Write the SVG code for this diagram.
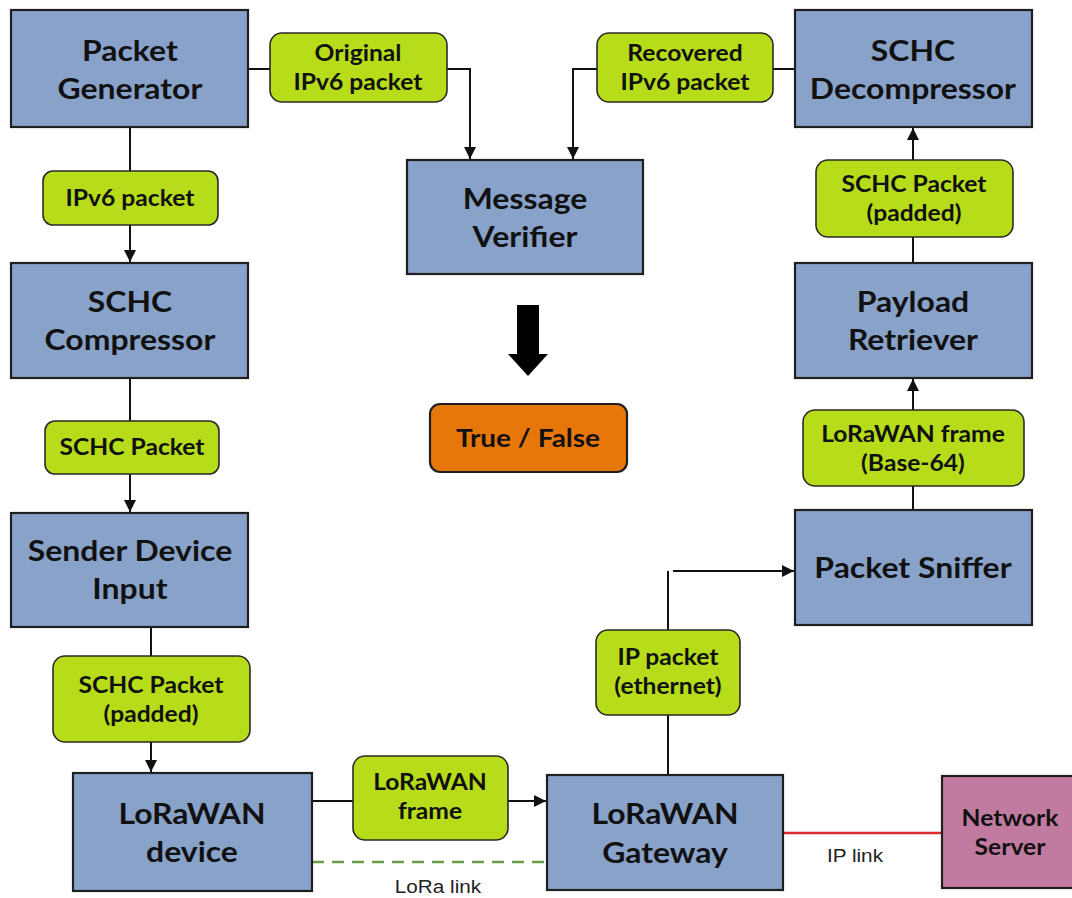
<svg xmlns="http://www.w3.org/2000/svg" width="1072" height="898" viewBox="0 0 1072 898">
  <style>
    .node { fill: #88A2C9; stroke: #1f1f1f; stroke-width: 2.2; }
    .lbl { fill: #B7DC19; stroke: #2a2a2a; stroke-width: 1.6; }
    .res { fill: #E8770B; stroke: #1f1f1f; stroke-width: 2.2; }
    .srv { fill: #C27BA0; stroke: #1f1f1f; stroke-width: 2.2; }
    text { transform-box: fill-box; transform-origin: center; transform: scaleX(1.12); }
    .nt { font-family: Lato, "Liberation Sans", sans-serif; font-weight: 700; font-size: 28.5px; fill: #111; text-anchor: middle; }
    .lt { font-family: Lato, "Liberation Sans", sans-serif; font-weight: 700; font-size: 22px; fill: #111; text-anchor: middle; }
    .st { font-family: "Liberation Sans", Arial, sans-serif; font-size: 18.5px; fill: #222; text-anchor: middle; }
    .wire { fill: none; stroke: #111; stroke-width: 2; }
  </style>
  <defs>
    <marker id="arr" viewBox="0 0 10 10" refX="10" refY="5" markerWidth="6" markerHeight="6" markerUnits="strokeWidth" orient="auto">
      <path d="M0,0 L10,5 L0,10 Z" fill="#111"/>
    </marker>
  </defs>

  <!-- connectors -->
  <g id="connectors">
    <path class="wire" d="M248,69 H270"/>
    <path class="wire" d="M447,69 H470 V159" marker-end="url(#arr)"/>
    <path class="wire" d="M795,69 H773"/>
    <path class="wire" d="M597,69 H573 V159" marker-end="url(#arr)"/>
    <path class="wire" d="M130,127 V171"/>
    <path class="wire" d="M130,225 V262" marker-end="url(#arr)"/>
    <path class="wire" d="M130,378 V421"/>
    <path class="wire" d="M130,474 V512" marker-end="url(#arr)"/>
    <path class="wire" d="M151,627 V656"/>
    <path class="wire" d="M151,742 V772" marker-end="url(#arr)"/>
    <path class="wire" d="M312,801 H353"/>
    <path class="wire" d="M508,801 H546" marker-end="url(#arr)"/>
    <path class="wire" d="M668,775 V715"/>
    <path class="wire" d="M668,630 V571"/>
    <path class="wire" d="M673,571 H794" marker-end="url(#arr)"/>
    <path class="wire" d="M913,510 V486"/>
    <path class="wire" d="M913,410 V379" marker-end="url(#arr)"/>
    <path class="wire" d="M913,263 V237"/>
    <path class="wire" d="M913,160 V128" marker-end="url(#arr)"/>
    <path d="M312,862 H547" fill="none" stroke="#6A9A45" stroke-width="2.5" stroke-dasharray="12,8"/>
    <path d="M783,833 H942" fill="none" stroke="#D92B2B" stroke-width="2.5"/>
    <!-- verdict arrow -->
    <path d="M517,305 H539 V354 H548 L528,376 L508,354 H517 Z" fill="#000"/>
    <text class="st" x="438" y="893">LoRa link</text>
    <text class="st" x="855" y="862">IP link</text>
  </g>

  <!-- left column -->
  <g id="packet-generator">
    <rect class="node" x="11" y="10" width="237" height="117"/>
    <text class="nt" x="130" y="61">Packet</text>
    <text class="nt" x="130" y="99">Generator</text>
  </g>
  <g id="lbl-ipv6">
    <rect class="lbl" x="43" y="171" width="175" height="54" rx="10"/>
    <text class="lt" x="130" y="206">IPv6 packet</text>
  </g>
  <g id="schc-compressor">
    <rect class="node" x="11" y="263" width="237" height="115"/>
    <text class="nt" x="130" y="312">SCHC</text>
    <text class="nt" x="130" y="350">Compressor</text>
  </g>
  <g id="lbl-schc">
    <rect class="lbl" x="45" y="421" width="174" height="53" rx="10"/>
    <text class="lt" x="132" y="455">SCHC Packet</text>
  </g>
  <g id="sender-device-input">
    <rect class="node" x="11" y="513" width="237" height="114"/>
    <text class="nt" x="130" y="561">Sender Device</text>
    <text class="nt" x="130" y="599">Input</text>
  </g>
  <g id="lbl-schc-padded-left">
    <rect class="lbl" x="53" y="656" width="197" height="86" rx="12"/>
    <text class="lt" x="151" y="693">SCHC Packet</text>
    <text class="lt" x="151" y="722">(padded)</text>
  </g>
  <g id="lorawan-device">
    <rect class="node" x="73" y="773" width="239" height="118"/>
    <text class="nt" x="192" y="824">LoRaWAN</text>
    <text class="nt" x="192" y="862">device</text>
  </g>

  <!-- middle -->
  <g id="lbl-original">
    <rect class="lbl" x="270" y="33" width="177" height="69" rx="12"/>
    <text class="lt" x="358" y="61">Original</text>
    <text class="lt" x="358" y="90">IPv6 packet</text>
  </g>
  <g id="lbl-recovered">
    <rect class="lbl" x="597" y="33" width="176" height="69" rx="12"/>
    <text class="lt" x="685" y="61">Recovered</text>
    <text class="lt" x="685" y="90">IPv6 packet</text>
  </g>
  <g id="message-verifier">
    <rect class="node" x="407" y="160" width="236" height="114"/>
    <text class="nt" x="525" y="209">Message</text>
    <text class="nt" x="525" y="247">Verifier</text>
  </g>
  <g id="result">
    <rect class="res" x="430" y="404" width="197" height="68" rx="10"/>
    <text class="lt" x="528" y="447" style="font-size:25px">True / False</text>
  </g>
  <g id="lbl-lorawan-frame">
    <rect class="lbl" x="353" y="756" width="155" height="84" rx="12"/>
    <text class="lt" x="430" y="790">LoRaWAN</text>
    <text class="lt" x="430" y="819">frame</text>
  </g>
  <g id="lorawan-gateway">
    <rect class="node" x="547" y="775" width="236" height="115"/>
    <text class="nt" x="665" y="824">LoRaWAN</text>
    <text class="nt" x="665" y="863">Gateway</text>
  </g>
  <g id="lbl-ip-packet">
    <rect class="lbl" x="596" y="630" width="144" height="85" rx="12"/>
    <text class="lt" x="668" y="665">IP packet</text>
    <text class="lt" x="668" y="694">(ethernet)</text>
  </g>
  <g id="network-server">
    <rect class="srv" x="942" y="776" width="140" height="112"/>
    <text class="lt" x="1010" y="826">Network</text>
    <text class="lt" x="1010" y="855">Server</text>
  </g>

  <!-- right column -->
  <g id="schc-decompressor">
    <rect class="node" x="795" y="10" width="237" height="117"/>
    <text class="nt" x="913" y="61">SCHC</text>
    <text class="nt" x="913" y="99">Decompressor</text>
  </g>
  <g id="lbl-schc-padded-right">
    <rect class="lbl" x="816" y="160" width="197" height="77" rx="12"/>
    <text class="lt" x="914" y="192">SCHC Packet</text>
    <text class="lt" x="914" y="221">(padded)</text>
  </g>
  <g id="payload-retriever">
    <rect class="node" x="795" y="263" width="237" height="115"/>
    <text class="nt" x="913" y="312">Payload</text>
    <text class="nt" x="913" y="350">Retriever</text>
  </g>
  <g id="lbl-base64">
    <rect class="lbl" x="803" y="410" width="221" height="76" rx="12"/>
    <text class="lt" x="913" y="442">LoRaWAN frame</text>
    <text class="lt" x="913" y="471">(Base-64)</text>
  </g>
  <g id="packet-sniffer">
    <rect class="node" x="795" y="510" width="237" height="115"/>
    <text class="nt" x="913" y="578">Packet Sniffer</text>
  </g>
</svg>
